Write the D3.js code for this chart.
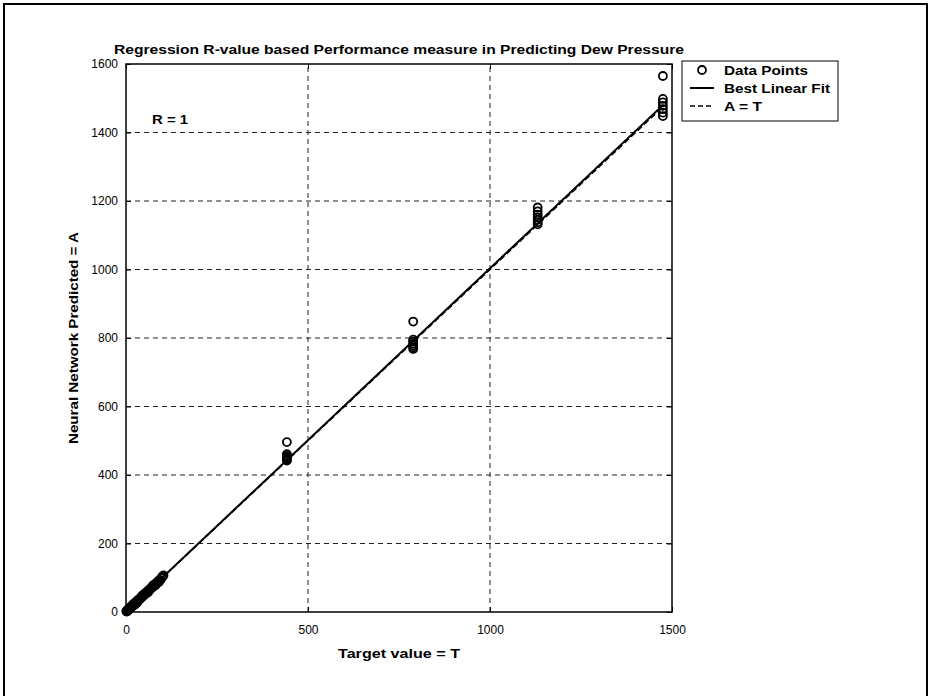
<!DOCTYPE html>
<html><head><meta charset="utf-8">
<script src="https://cdn.jsdelivr.net/npm/d3@7"></script>
<style>body{margin:0;background:#fff}svg{display:block}</style>
</head><body>
<script>
const titleText = "Regression R-value based Performance measure in Predicting Dew Pressure";
const xLabel = "Target value = T";
const yLabel = "Neural Network Predicted = A";
const rText = "R = 1";
const xTicks = [0, 500, 1000, 1500];
const yTicks = [0, 200, 400, 600, 800, 1000, 1200, 1400, 1600];
const legendLabels = ["Data Points", "Best Linear Fit", "A = T"];
// data points: target T, predicted A
const targetT = [1,2,3,4,5,6,7,8,9,10,11,12,13,15,17,19,21,23,25,27,29,31,33,35,37,40,43,46,49,52,55,58,61,64,67,70,73,76,79,82,85,88,91,94,97,100,103,
  20,30,45,60,75,90,25,50,80,100,
  442,442,442,442,442,442,442,
  789,789,789,789,789,789,789,
  1131,1131,1131,1131,1131,1131,1131,
  1475,1475,1475,1475,1475,1475,1475];
const predA = [2,1,5,3,6,8,6,9,11,9,13,12,15,14,19,18,23,22,27,26,31,30,35,34,39,39,45,45,51,51,57,57,63,63,69,69,75,75,81,81,87,87,93,93,99,102,107,
  23,27,48,57,78,87,22,53,77,104,
  496,461,456,452,448,445,442,
  848,795,789,783,778,773,768,
  1181,1170,1160,1152,1145,1138,1132,
  1565,1498,1488,1478,1468,1458,1448];
const fitSlope = 1.003, fitIntercept = 0.5;

const W = 931, H = 696;
const svg = d3.select("body").append("svg").attr("width", W).attr("height", H);
svg.append("rect").attr("x",4).attr("y",4).attr("width",923).attr("height",H+10)
  .attr("fill","none").attr("stroke","#000").attr("stroke-width",2);

const L=126, R=672, T=64, B=612;
const x = d3.scaleLinear().domain([0,1500]).range([L,R]);
const y = d3.scaleLinear().domain([0,1600]).range([B,T]);
const font = "'Liberation Sans', Arial, sans-serif";
const g = svg.append("g").style("font-family", font);

// grid
g.selectAll(".gx").data(xTicks.slice(1,-1)).enter().append("line")
  .attr("x1",d=>x(d)).attr("x2",d=>x(d)).attr("y1",B).attr("y2",T)
  .attr("stroke","#222").attr("stroke-width",1).attr("stroke-dasharray","5,4");
g.selectAll(".gy").data(yTicks.slice(1,-1)).enter().append("line")
  .attr("y1",d=>y(d)).attr("y2",d=>y(d)).attr("x1",L).attr("x2",R)
  .attr("stroke","#222").attr("stroke-width",1).attr("stroke-dasharray","5,4");

// axes
const ax = d3.axisBottom(x).tickValues(xTicks).tickSize(-5).tickPadding(13).tickFormat(d3.format("d"));
const ay = d3.axisLeft(y).tickValues(yTicks).tickSize(-5).tickPadding(8).tickFormat(d3.format("d"));
const axT = d3.axisTop(x).tickValues(xTicks).tickSize(-5).tickFormat("");
const ayR = d3.axisRight(y).tickValues(yTicks).tickSize(-5).tickFormat("");
function style(sel){ sel.select(".domain").remove(); sel.selectAll("line").attr("stroke","#000");
  sel.selectAll("text").style("font-family",font).style("font-size","12px").attr("fill","#000"); }
g.append("g").attr("transform",`translate(0,${B})`).call(ax).call(style);
g.append("g").attr("transform",`translate(${L},0)`).call(ay).call(style);
g.append("g").attr("transform",`translate(0,${T})`).call(axT).call(style);
g.append("g").attr("transform",`translate(${R},0)`).call(ayR).call(style);
g.append("rect").attr("x",L).attr("y",T).attr("width",R-L).attr("height",B-T)
  .attr("fill","none").attr("stroke","#000").attr("stroke-width",1.5);

// lines
const tMin = d3.min(targetT), tMax = d3.max(targetT);
g.append("line").attr("x1",x(tMin)).attr("y1",y(tMin)).attr("x2",x(tMax)).attr("y2",y(tMax))
  .attr("stroke","#000").attr("stroke-width",1.5).attr("stroke-dasharray","6,3");
g.append("line").attr("x1",x(tMin)).attr("y1",y(fitSlope*tMin+fitIntercept))
  .attr("x2",x(tMax)).attr("y2",y(fitSlope*tMax+fitIntercept))
  .attr("stroke","#000").attr("stroke-width",2);

// points
g.selectAll(".pt").data(targetT.map((t,i)=>[t,predA[i]])).enter().append("circle")
  .attr("cx",d=>x(d[0])).attr("cy",d=>y(d[1])).attr("r",4)
  .attr("fill","none").attr("stroke","#000").attr("stroke-width",1.8);

// texts
function btext(sel, len){ return sel.style("font-size","13px").style("font-weight","bold")
  .attr("textLength",len).attr("lengthAdjust","spacingAndGlyphs"); }
btext(g.append("text").attr("x",(L+R)/2).attr("y",T-10).attr("text-anchor","middle").text(titleText), 570);
btext(g.append("text").attr("x",(L+R)/2).attr("y",B+46).attr("text-anchor","middle").text(xLabel), 122);
btext(g.append("text").attr("transform",`translate(${L-48},${(T+B)/2}) rotate(-90)`).attr("text-anchor","middle").text(yLabel), 212);
btext(g.append("text").attr("x",152).attr("y",123.5).text(rText), 36);

// legend
const lg = g.append("g");
lg.append("rect").attr("x",682).attr("y",61).attr("width",156).attr("height",60)
  .attr("fill","#fff").attr("stroke","#000").attr("stroke-width",1);
const rowsY = [70, 88, 106];
const legLens = [84, 106, 38];
legendLabels.forEach((lab,i)=>{
  btext(lg.append("text").attr("x",724).attr("y",rowsY[i]+4.5).text(lab), legLens[i]);
});
lg.append("circle").attr("cx",702).attr("cy",rowsY[0]).attr("r",4).attr("fill","none").attr("stroke","#000").attr("stroke-width",1.8);
lg.append("line").attr("x1",690).attr("x2",714).attr("y1",rowsY[1]).attr("y2",rowsY[1]).attr("stroke","#000").attr("stroke-width",2);
lg.append("line").attr("x1",690).attr("x2",714).attr("y1",rowsY[2]).attr("y2",rowsY[2]).attr("stroke","#000").attr("stroke-width",1.5).attr("stroke-dasharray","5,3");
</script>
</body></html>
